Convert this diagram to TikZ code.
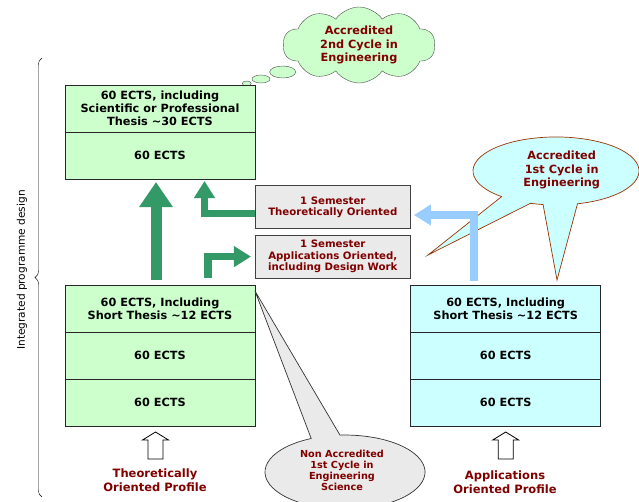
\documentclass[tikz,border=0pt]{standalone}
\usepackage{fontspec}
\setmainfont{DejaVu Sans}
\definecolor{cellgreen}{RGB}{204, 255, 204}
\definecolor{cellcyan}{RGB}{204, 255, 255}
\definecolor{semgray}{RGB}{234, 234, 234}
\definecolor{darkred}{RGB}{128, 0, 0}
\definecolor{arrowgreen}{RGB}{51, 153, 102}
\definecolor{arrowblue}{RGB}{153, 204, 255}
\definecolor{bubbleedge}{RGB}{153, 51, 0}
\usetikzlibrary{shapes.symbols, arrows.meta, positioning, decorations.pathreplacing}

\begin{document}
\begin{tikzpicture}[x=1pt, y=-1pt,
    cell/.style={draw=black!85, line width=0.9pt, minimum width=190pt, minimum height=47pt,
      inner sep=0pt, outer sep=0pt, align=center, font=\fontsize{11.3}{12.8}\selectfont\bfseries},
    greencell/.style={cell, fill=cellgreen},
    cyancell/.style={cell, fill=cellcyan},
    sembox/.style={draw=black!75, line width=0.9pt, fill=semgray, minimum width=155.7pt,
      minimum height=43pt, inner sep=0pt, outer sep=0pt, align=center, text=darkred,
      font=\fontsize{10.2}{11.5}\selectfont\bfseries},
    redlabel/.style={align=center, text=darkred, font=\fontsize{11.3}{13.5}\selectfont\bfseries},
    bigarrow/.style={arrowgreen, line width=11pt, -{Triangle[width=32pt, length=25pt]}},
    bentarrow/.style={line width=7.5pt, -{Triangle[width=20pt, length=17pt]}}]
  \useasboundingbox (0,0) rectangle (639,501);

  % Callout bubbles (drawn first, arrows go over them)
  \draw[bubbleedge, fill=cellcyan, line width=0.7pt]
    (501.5,196.7) -- (428,255) -- (530.4,203.3)
    arc[start angle=108, end angle=99, x radius=83, y radius=34]
    -- (557,280) -- (577.5,203.8)
    arc[start angle=75, end angle=-229, x radius=83, y radius=34] -- cycle;
  \node[redlabel] (acc1) at (561.7,170) {Accredited\\1st Cycle in\\Engineering};

  % Thought cloud
  \node[cloud, draw=black!70, fill=cellgreen, cloud puffs=10, cloud puff arc=110, aspect=2,
    minimum width=152pt, minimum height=76pt, inner sep=0pt, redlabel] (acc2) at (359,45)
    {Accredited\\2nd Cycle in\\Engineering};
  \draw[black!70, fill=cellgreen] (282.7,72) ellipse [x radius=13, y radius=6];
  \draw[black!70, fill=cellgreen] (261,79) ellipse [x radius=9, y radius=4];
  \draw[black!70, fill=cellgreen] (246.7,83.5) ellipse [x radius=4.5, y radius=2.5];

  % Second cycle stack
  \node[greencell] (t1) at (160,108.5) {60 ECTS, including\\Scientific or Professional\\Thesis \textasciitilde30 ECTS};
  \node[greencell, below=0pt of t1] (t2) {60 ECTS};

  % First cycle stacks
  \node[greencell] (l1) at (160,308.5) {60 ECTS, Including\\Short Thesis \textasciitilde12 ECTS};
  \node[greencell, below=0pt of l1] (l2) {60 ECTS};
  \node[greencell, below=0pt of l2] (l3) {60 ECTS};
  \node[cyancell] (r1) at (505.7,308.5) {60 ECTS, Including\\Short Thesis \textasciitilde12 ECTS};
  \node[cyancell, below=0pt of r1] (r2) {60 ECTS};
  \node[cyancell, below=0pt of r2] (r3) {60 ECTS};

  % Extra semesters
  \node[sembox] (sem1) at (332.8,207.3) {1 Semester\\Theoretically Oriented};
  \node[sembox, below=6.3pt of sem1] (sem2) {1 Semester\\Applications Oriented,\\including Design Work};

  % Non accredited callout
  \draw[black!80, fill=semgray, line width=0.7pt]
    ([yshift=-6pt]l1.north east) -- (311.2,438.5)
    arc[start angle=-115, end angle=-453.6, x radius=80, y radius=37] -- cycle;
  \node[redlabel, font=\fontsize{9.7}{11}\selectfont\bfseries] (nonacc) at (342,470)
    {Non Accredited\\1st Cycle in\\Engineering\\Science};

  % Arrows
  \draw[bigarrow] ([xshift=-4pt, yshift=5pt]l1.north) -- ([xshift=-4pt, yshift=-3pt]t2.south);
  \draw[bentarrow, arrowgreen] ([yshift=-6pt]sem1.west) -| ([xshift=44.5pt, yshift=-2pt]t2.south);
  \draw[bentarrow, arrowgreen] ([xshift=48pt, yshift=7pt]l1.north) |- ([xshift=-4pt]sem2.west);
  \draw[bentarrow, arrowblue] ([xshift=-31.7pt, yshift=4pt]r1.north) |- ([xshift=3.3pt, yshift=-7.7pt]sem1.east);

  % Profile arrows
  \foreach \n/\dx in {l3/-4.5, r3/0} {
    \draw[black, fill=white, line width=0.8pt] ([xshift=\dx pt, yshift=-33pt]\n.south) ++(-7.5,0)
      -- ++(0,-19) -- ++(-5.5,0) -- ++(13,-8) -- ++(13,8) -- ++(-5.5,0) -- ++(0,19) -- cycle;
  }
  \node[redlabel, font=\fontsize{11.5}{14}\selectfont\bfseries] (theo) at (155,480) {Theoretically\\Oriented Profile};
  \node[redlabel, font=\fontsize{11.5}{14}\selectfont\bfseries] (appl) at (505,482) {Applications\\Oriented Profile};

  % Brace
  \draw[decorate, decoration={brace, amplitude=7pt}] (42,497) -- (42,58);
  \node[rotate=90, font=\fontsize{10.6}{12}\selectfont] (design) at (22,270) {Integrated programme design};
\end{tikzpicture}
\end{document}
